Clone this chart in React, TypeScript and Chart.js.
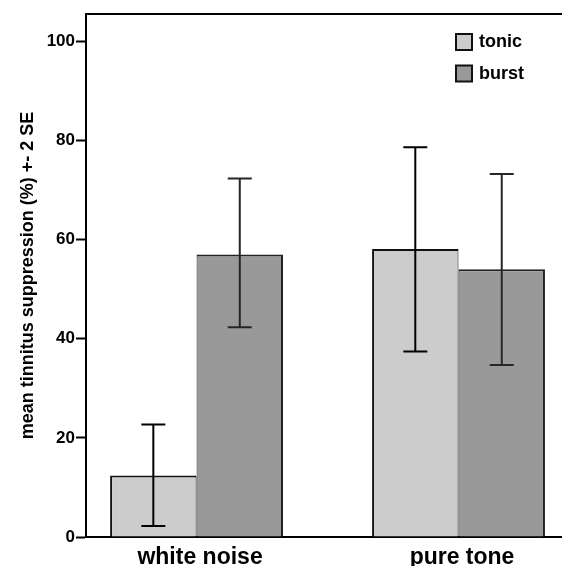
import React, { useEffect, useRef } from "react";
import { Chart, registerables } from "chart.js";

Chart.register(...registerables);

const categories = ["white noise", "pure tone"];
const seriesNames = ["tonic", "burst"];
const categoryPositions = [1, 2];
const tonicMean = [12.4, 58.1];
const tonicLow = [2.2, 37.4];
const tonicHigh = [22.7, 78.6];
const burstMean = [57.0, 54.0];
const burstLow = [42.3, 34.7];
const burstHigh = [72.3, 73.2];
const yTicks = [0, 20, 40, 60, 80, 100];

const FONT = "'Liberation Sans', Arial, sans-serif";
const fills = ["#cccccc", "#999999"];
const errColors = ["#000000", "#262626"];

const errorBarPlugin = {
  id: "errorBars",
  afterDatasetsDraw(chart: any) {
    const ctx = chart.ctx;
    const yScale = chart.scales.y;
    const lows = [tonicLow, burstLow];
    const highs = [tonicHigh, burstHigh];
    ctx.save();
    for (let d = 0; d < 2; d++) {
      const meta = chart.getDatasetMeta(d);
      ctx.strokeStyle = errColors[d];
      ctx.lineWidth = 2;
      meta.data.forEach((el: any, i: number) => {
        const x = el.x;
        const yl = yScale.getPixelForValue(lows[d][i]);
        const yh = yScale.getPixelForValue(highs[d][i]);
        ctx.beginPath();
        ctx.moveTo(x, yl);
        ctx.lineTo(x, yh);
        ctx.moveTo(x - 12, yl);
        ctx.lineTo(x + 12, yl);
        ctx.moveTo(x - 12, yh);
        ctx.lineTo(x + 12, yh);
        ctx.stroke();
      });
    }
    ctx.restore();
  },
};

const frameLegendPlugin = {
  id: "frameLegend",
  afterDraw(chart: any) {
    const ctx = chart.ctx;
    const area = chart.chartArea;
    ctx.save();
    ctx.strokeStyle = "#000";
    ctx.lineWidth = 2;
    ctx.beginPath();
    ctx.moveTo(area.left, area.top);
    ctx.lineTo(area.right, area.top);
    ctx.stroke();
    const bx = area.right - 106;
    const by = area.top + 20;
    ctx.font = `bold 18px ${FONT}`;
    ctx.textBaseline = "middle";
    ctx.textAlign = "left";
    seriesNames.forEach((name, i) => {
      const y = by + i * 31.5;
      ctx.fillStyle = fills[i];
      ctx.fillRect(bx, y, 16, 16);
      ctx.strokeStyle = "#111";
      ctx.lineWidth = 2;
      ctx.strokeRect(bx, y, 16, 16);
      ctx.fillStyle = "#000";
      ctx.fillText(name, bx + 23, y + 8.5);
    });
    ctx.restore();
  },
};

export default function App() {
  const ref = useRef<HTMLCanvasElement | null>(null);

  useEffect(() => {
    if (!ref.current) return;
    const chart = new Chart(ref.current, {
      type: "bar",
      data: {
        datasets: [
          {
            label: seriesNames[0],
            data: categoryPositions.map((x, i) => ({ x, y: tonicMean[i] })),
            backgroundColor: fills[0],
            borderColor: "#111",
            borderWidth: { top: 2, left: 2, right: 1, bottom: 0 },
            borderSkipped: false,
          },
          {
            label: seriesNames[1],
            data: categoryPositions.map((x, i) => ({ x, y: burstMean[i] })),
            backgroundColor: fills[1],
            borderColor: "#222",
            borderWidth: { top: 2, left: 1, right: 2, bottom: 0 },
            borderSkipped: false,
          },
        ] as any,
      },
      options: {
        animation: false,
        responsive: true,
        maintainAspectRatio: false,
        datasets: { bar: { barPercentage: 1, categoryPercentage: 0.66 } } as any,
        layout: { padding: { top: 14, left: 0, right: 0, bottom: 0 } },
        plugins: {
          legend: { display: false },
          tooltip: { enabled: false },
        },
        scales: {
          x: {
            type: "linear",
            offset: false,
            bounds: "data",
            min: 0.578,
            max: 2.395,
            grid: { display: false, drawTicks: false, offset: false },
            border: { display: true, color: "#000", width: 2 },
            afterBuildTicks: (scale: any) => {
              scale.ticks = categoryPositions.map((v) => ({ value: v }));
            },
            afterFit: (scale: any) => {
              scale.height = 29;
            },
            ticks: {
              autoSkip: false,
              maxRotation: 0,
              padding: 7,
              labelOffset: 3.5,
              color: "#000",
              font: { family: FONT, size: 23, weight: "bold" },
              callback: (v: any) => {
                const idx = categoryPositions.indexOf(Number(v));
                return idx >= 0 ? categories[idx] : "";
              },
            },
          },
          y: {
            min: 0,
            max: 105.5,
            afterBuildTicks: (scale: any) => {
              scale.ticks = yTicks.map((v) => ({ value: v }));
            },
            afterFit: (scale: any) => {
              scale.width = 86;
            },
            grid: {
              drawOnChartArea: false,
              drawTicks: true,
              tickLength: 10,
              tickColor: "#000",
              tickWidth: 2,
            },
            border: { display: true, color: "#000", width: 2 },
            ticks: {
              padding: 1,
              color: "#000",
              font: { family: FONT, size: 17, weight: "bold" },
            },
            title: {
              display: true,
              text: "mean tinnitus suppression (%) +- 2 SE",
              color: "#000",
              padding: { top: 17, bottom: 0 },
              font: { family: FONT, size: 18, weight: "bold" },
            },
          },
        },
      } as any,
      plugins: [errorBarPlugin, frameLegendPlugin],
    });
    return () => chart.destroy();
  }, []);

  return (
    <div
      style={{
        position: "absolute",
        left: 0,
        top: 0,
        width: 562,
        height: 566,
        background: "#fff",
      }}
    >
      <canvas ref={ref} />
    </div>
  );
}
